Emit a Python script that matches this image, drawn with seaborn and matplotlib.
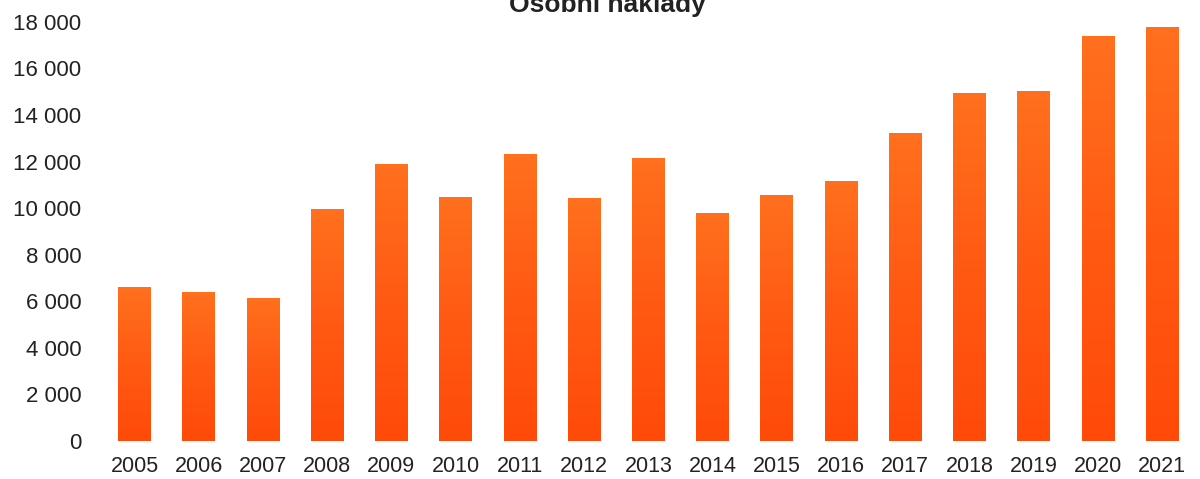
import numpy as np
import pandas as pd
import seaborn as sns
import matplotlib.pyplot as plt
from matplotlib.colors import LinearSegmentedColormap
from matplotlib.ticker import FuncFormatter

years = ['2005', '2006', '2007', '2008', '2009', '2010', '2011', '2012', '2013',
         '2014', '2015', '2016', '2017', '2018', '2019', '2020', '2021']
costs = [6600, 6400, 6150, 9950, 11900, 10500, 12330, 10430, 12150,
         9780, 10550, 11180, 13220, 14930, 15050, 17380, 17760]
title = 'Osobní náklady'

df = pd.DataFrame({'rok': years, 'naklady': costs})

sns.set_style('white')
plt.rcParams['font.family'] = ['Liberation Sans', 'DejaVu Sans']

fig = plt.figure(figsize=(12, 4.79), dpi=100)
ax = fig.add_axes([0.0853, 0.0793, 0.910, 0.875])

sns.barplot(x='rok', y='naklady', data=df, color='#ff5a12', width=0.51,
            saturation=1, ax=ax)

# vertical gradient on each bar
cmap = LinearSegmentedColormap.from_list('bar', ['#ff4a0a', '#ff5a12', '#ff701e'])
grad = np.linspace(0, 1, 256).reshape(-1, 1)
for p in ax.patches:
    x0, y0 = p.get_x(), p.get_y()
    w, h = p.get_width(), p.get_height()
    im = ax.imshow(grad, cmap=cmap, aspect='auto', origin='lower',
                   extent=[x0, x0 + w, y0, y0 + h], zorder=p.get_zorder() + 0.1)
    im.set_clip_path(p)

ax.set_xlim(-0.5, len(years) - 0.5)
ax.set_ylim(0, 18000)
ax.set_yticks(range(0, 18001, 2000))
ax.yaxis.set_major_formatter(FuncFormatter(lambda v, pos: f'{int(v):,}'.replace(',', ' ')))
ax.set_xlabel('')
ax.set_ylabel('')
ax.tick_params(axis='y', labelsize=16, colors='#222222', length=0, pad=15)
ax.tick_params(axis='x', labelsize=15.5, colors='#222222', length=0, pad=11)
sns.despine(ax=ax, left=True, bottom=True)

fig.text(0.506, 0.975, title, ha='center', va='baseline', fontsize=19,
         fontweight='bold', color='#222222')

fig.savefig('out.png', dpi=100)
